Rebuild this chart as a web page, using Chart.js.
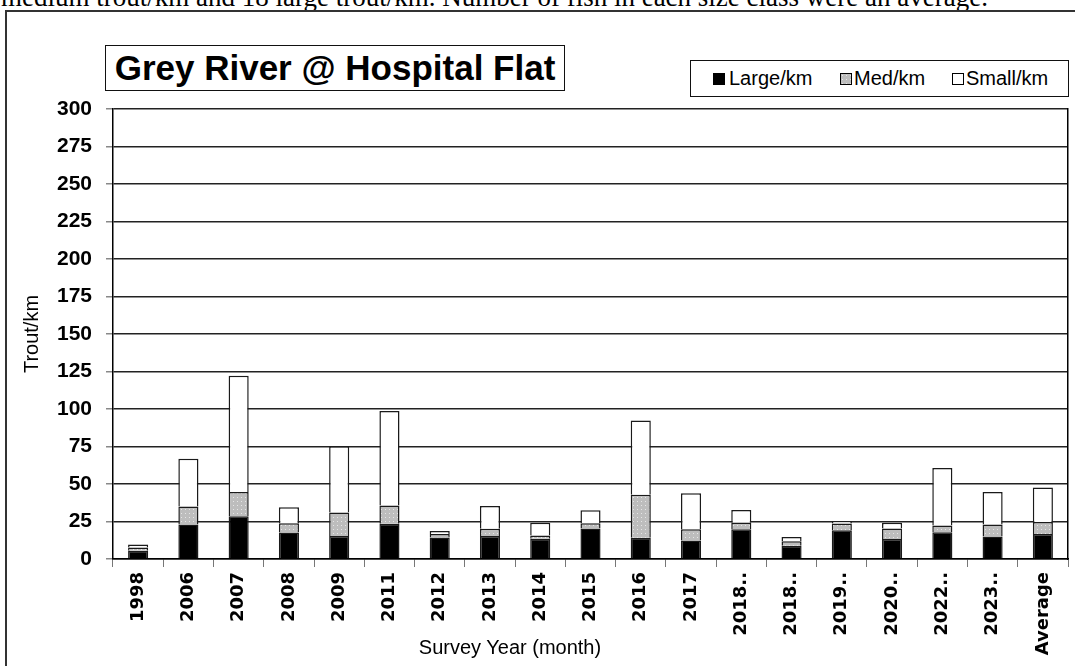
<!DOCTYPE html>
<html>
<head>
<meta charset="utf-8">
<script src="https://cdn.jsdelivr.net/npm/chart.js@4.4.1/dist/chart.umd.min.js"></script>
<style>
  html, body { margin:0; padding:0; background:#fff; overflow:hidden; }
  #wrap { position:relative; width:1075px; height:666px; overflow:hidden; background:#fff; }
  #frame { position:absolute; left:5px; top:10px; width:1200px; height:800px; border:2px solid #333; box-sizing:border-box; }
  #caption { position:absolute; left:1px; top:-16px; white-space:nowrap; font-family:'Liberation Serif', serif; font-size:27px; line-height:27px; color:#000; }
  #c { position:absolute; left:0; top:0; }
  #title { position:absolute; left:105px; top:45px; width:460px; height:46px; box-sizing:border-box; border:1.5px solid #111; font-family:'Liberation Sans', Arial, sans-serif; font-weight:bold; font-size:35px; line-height:43px; text-align:center; color:#000; background:#fff; }
  #legend { position:absolute; left:690px; top:60px; width:379px; height:37px; box-sizing:border-box; border:1.5px solid #111; background:#fff; font-family:'Liberation Sans', Arial, sans-serif; font-size:20px; color:#000; }
  .sw { position:absolute; top:12px; width:12px; height:12px; box-sizing:border-box; border:1px solid #000; }
  .lt { position:absolute; top:5px; line-height:24px; }
  #xtitle { position:absolute; left:510px; top:636px; transform:translateX(-50%); font-family:'Liberation Sans', Arial, sans-serif; font-size:20px; color:#000; white-space:nowrap; }
</style>
</head>
<body>
<div id="wrap">
  <div id="caption">medium trout/km and 18 large trout/km. Number of fish in each size class were an average.</div>
  <div id="frame"></div>
  <canvas id="c" width="1075" height="666"></canvas>
  <div id="title">Grey River @ Hospital Flat</div>
  <div id="legend">
    <div class="sw" style="left:22px;background:#000;"></div><div class="lt" style="left:38px;">Large/km</div>
    <div class="sw" id="medsw" style="left:149px;background:#c0c0c0;"></div><div class="lt" style="left:163px;">Med/km</div>
    <div class="sw" style="left:261px;background:#fff;"></div><div class="lt" style="left:275px;">Small/km</div>
  </div>
  <div id="xtitle">Survey Year (month)</div>
</div>
<script>
const categories = ['1998','2006','2007','2008','2009','2011','2012','2013','2014','2015','2016','2017','2018..','2018..','2019..','2020..','2022..','2023..','Average'];
const largeKm = [5.5, 23, 28.5, 17.7, 15.3, 23.5, 14.4, 15.3, 13.5, 20.4, 14.2, 12.4, 19.9, 8.8, 19.2, 13.3, 17.9, 15.0, 16.6];
const medKm   = [2.2, 12, 16.2, 6.2, 15.7, 12.1, 2.2, 4.8, 2.2, 3.5, 28.7, 7.5, 4.2, 3.1, 4.5, 7.1, 4.4, 8.0, 8.0];
const smallKm = [2.0, 31.8, 77.4, 10.6, 44.2, 63.1, 2.0, 15.3, 8.4, 8.6, 49.4, 23.9, 8.6, 2.7, 1.5, 3.7, 38.3, 21.7, 23.0];
const yTicks = [0,25,50,75,100,125,150,175,200,225,250,275,300];

// dotted grey pattern for medium size class
const pc = document.createElement('canvas');
pc.width = 4; pc.height = 4;
const px = pc.getContext('2d');
px.fillStyle = '#bdbdbd'; px.fillRect(0,0,4,4);
px.fillStyle = '#e6e6e6'; px.fillRect(1,1,1,1);
const ctx = document.getElementById('c').getContext('2d');
const medPattern = ctx.createPattern(pc, 'repeat');
document.getElementById('medsw').style.background = 'url(' + pc.toDataURL() + ')';

const edge = '#1a1a1a';
new Chart(ctx, {
  type: 'bar',
  data: {
    labels: categories,
    datasets: [
      { label:'Large/km', data:largeKm, backgroundColor:'#000', borderColor:edge, borderWidth:1.5 },
      { label:'Med/km', data:medKm, backgroundColor:medPattern, borderColor:edge, borderWidth:1.5 },
      { label:'Small/km', data:smallKm, backgroundColor:'#fff', borderColor:edge, borderWidth:1.5 }
    ]
  },
  options: {
    responsive:false,
    animation:false,
    layout:{ padding:{ top:109, right:7, bottom:0, left:0 } },
    plugins:{ legend:{display:false}, title:{display:false}, tooltip:{enabled:false} },
    datasets:{ bar:{ categoryPercentage:1, barPercentage:0.4 } },
    scales:{
      x:{
        stacked:true,
        offset:true,
        grid:{ offset:true, drawOnChartArea:false, drawTicks:true, tickLength:8, tickColor:'#777', lineWidth:1 },
        border:{ color:'#000', width:1.5 },
        ticks:{ autoSkip:false, maxRotation:90, minRotation:90, padding:5, color:'#000',
                font:{ family:'DejaVu Sans', weight:'bold', size:18 } },
        afterFit: s => { s.height = 107; }
      },
      y:{
        stacked:true,
        min:0, max:300,
        afterBuildTicks: s => { s.ticks = yTicks.map(v => ({ value:v })); },
        ticks:{ padding:14, color:'#000', font:{ family:'Liberation Sans', weight:'bold', size:21 } },
        grid:{ color:'#222', lineWidth:1.5, tickLength:7, tickColor:'#888' },
        border:{ color:'#000', width:1.5 },
        title:{ display:true, text:'Trout/km', color:'#000', font:{ family:'Liberation Sans', size:20 }, padding:{ top:20, bottom:0 } },
        afterFit: s => { s.width = 113; }
      },
      y2:{
        position:'right',
        min:0, max:300,
        ticks:{ display:false },
        grid:{ drawOnChartArea:false, drawTicks:false },
        border:{ display:true, color:'#000', width:1.5 },
        afterFit: s => { s.width = 0; }
      }
    }
  }
});
</script>
</body>
</html>
